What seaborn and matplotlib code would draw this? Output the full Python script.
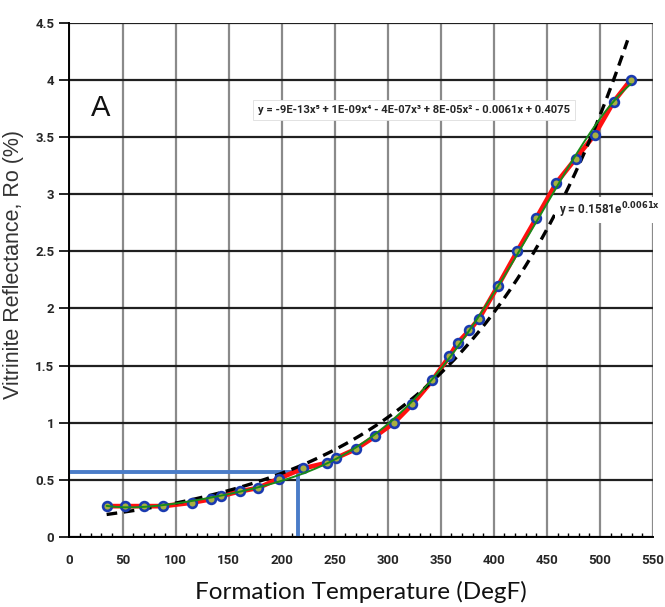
import numpy as np
import pandas as pd
import matplotlib
matplotlib.use("Agg")
import matplotlib.pyplot as plt
import seaborn as sns
from matplotlib.ticker import MultipleLocator

# ---- data ----
temp_degF = [35, 52, 70, 88, 115, 133, 143, 161, 178, 197, 220, 243, 251, 270, 288,
             306, 323, 342, 358, 366, 377, 386, 404, 422, 440, 459, 477, 495, 513, 529]
ro_pct = [0.27, 0.27, 0.27, 0.27, 0.30, 0.33, 0.36, 0.40, 0.43, 0.51, 0.60, 0.65, 0.69, 0.77, 0.88,
          1.00, 1.16, 1.37, 1.58, 1.70, 1.81, 1.91, 2.20, 2.50, 2.79, 3.10, 3.31, 3.52, 3.81, 4.00]
x_ticks = list(range(0, 551, 50))
y_ticks = [0, 0.5, 1, 1.5, 2, 2.5, 3, 3.5, 4, 4.5]
y_tick_labels = ["0", "0.5", "1", "1.5", "2", "2.5", "3", "3.5", "4", "4.5"]
poly_label = "y = -9E-13x\u2075 + 1E-09x\u2074 - 4E-07x\u00b3 + 8E-05x\u00b2 - 0.0061x + 0.4075"
exp_label = r"y = 0.1581e$^{\mathbf{0.0061x}}$"
exp_a, exp_b = 0.1581, 0.0063   # exponential trend as drawn
exp_x_range = [35, 526]
cut_temp = 215
cut_ro = 0.57
panel_letter = "A"

df = pd.DataFrame({"temp": temp_degF, "ro": ro_pct})

sns.set_theme(style="white")
narrow = ["Roboto", "DejaVu Sans"]
plt.rcParams["font.family"] = ["Liberation Sans", "DejaVu Sans"]
plt.rcParams["mathtext.fontset"] = "dejavusans"

fig = plt.figure(figsize=(6.65, 6.07), dpi=100)
ax = fig.add_axes([0.1045, 0.1153, 0.8775, 0.8473])

# gridlines
for xv in x_ticks:
    ax.axvline(xv, color="#8a8a8a", lw=1.6, zorder=0)
for yv in y_ticks:
    ax.axhline(yv, color="#202020", lw=1.6, zorder=0)

# blue reading lines
ax.plot([0, cut_temp], [cut_ro, cut_ro], color="#4a7cc8", lw=2.8, zorder=2, solid_capstyle="butt")
ax.plot([cut_temp, cut_temp], [0, cut_ro], color="#4a7cc8", lw=2.8, zorder=2, solid_capstyle="butt")

# data line (red)
sns.lineplot(data=df, x="temp", y="ro", ax=ax, color="#ff1010", lw=3.4, zorder=3, sort=True)

# exponential trend (dashed)
xe = np.linspace(exp_x_range[0], exp_x_range[1], 200)
ax.plot(xe, exp_a * np.exp(exp_b * xe), color="black", lw=2.4, ls=(0, (3.2, 2.0)), zorder=4)

# markers
sns.scatterplot(data=df, x="temp", y="ro", ax=ax, s=40, color="#a8b040",
                edgecolor="#1a3ab0", linewidth=1.9, zorder=5)

# polynomial trend (green)
coef = np.polyfit(df["temp"], df["ro"], 5)
xp = np.linspace(min(temp_degF), max(temp_degF), 300)
ax.plot(xp, np.polyval(coef, xp), color="#1a8a1a", lw=1.4, zorder=6)

ax.set_xlim(0, 550)
ax.set_ylim(0, 4.5)
ax.set_xticks(x_ticks)
ax.set_xticklabels([str(v) for v in x_ticks], fontfamily=narrow, fontweight="bold", fontsize=9.5)
ax.set_yticks(y_ticks)
ax.set_yticklabels(y_tick_labels, fontfamily=narrow, fontweight="bold", fontsize=9.5)
ax.xaxis.set_minor_locator(MultipleLocator(10))
ax.tick_params(axis="x", which="major", direction="in", length=6, width=1.2, color="black", pad=12)
ax.tick_params(axis="x", which="minor", direction="in", length=3, width=1.0, color="black", bottom=True)
ax.tick_params(axis="y", which="major", direction="out", length=7, width=1.2, color="black", left=True, pad=4)

for s in ["top", "right"]:
    ax.spines[s].set_visible(False)
ax.spines["left"].set_color("black")
ax.spines["left"].set_linewidth(1.4)
ax.spines["bottom"].set_color("black")
ax.spines["bottom"].set_linewidth(1.4)

ax.set_xlabel("Formation Temperature (DegF)", fontfamily=["Lato", "DejaVu Sans"], fontsize=17.5,
              color="#111111", labelpad=10)
ax.set_ylabel("Vitrinite Reflectance, Ro (%)", fontsize=15.5, color="#333333")
ax.yaxis.set_label_coords(-0.078, 0.53)

ax.text(29, 3.75, panel_letter, fontsize=21, ha="center", va="center", color="#111111", zorder=7)
ax.text(325, 3.74, poly_label, fontfamily=narrow, fontweight="bold", fontsize=8.1,
        ha="center", va="center", zorder=7,
        bbox=dict(boxstyle="square,pad=0.45", fc="white", ec="#dddddd", lw=0.6))
ax.text(461, 2.86, exp_label, fontfamily=narrow, fontweight="bold", fontsize=8.5,
        ha="left", va="center", zorder=7,
        bbox=dict(boxstyle="square,pad=0.3", fc="white", ec="none"))

fig.savefig("out.png", dpi=100, facecolor="white")
